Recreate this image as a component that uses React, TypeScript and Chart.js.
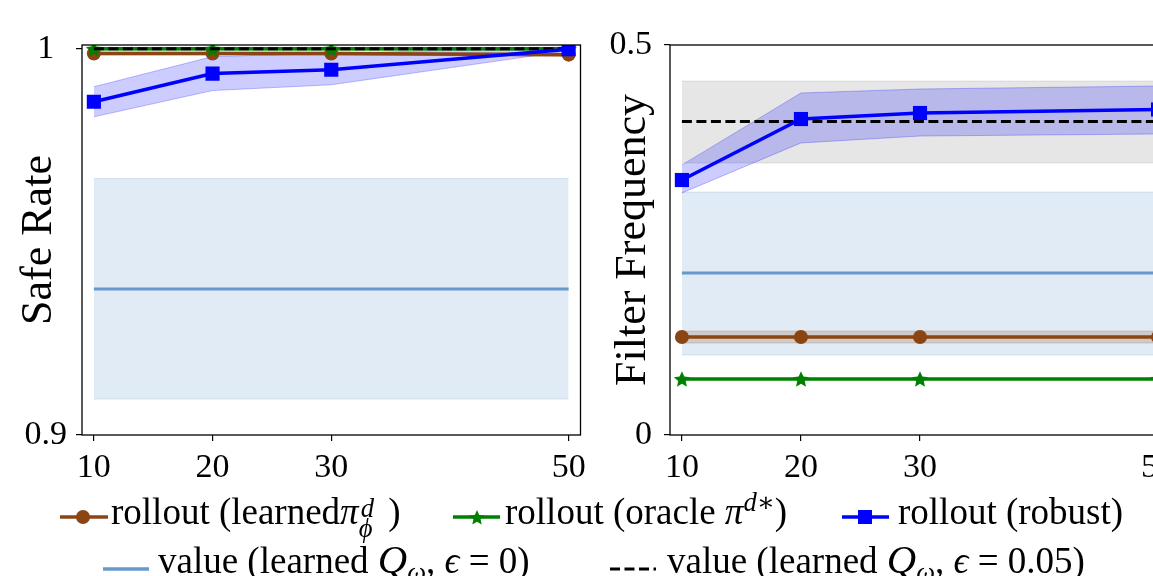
import React, { useEffect, useRef } from 'react';
import { Chart, registerables } from 'chart.js';

Chart.register(...registerables);

const FONT = "'Liberation Serif', 'DejaVu Serif', serif";

// x positions (trajectory counts)
const steps = [10, 20, 30, 50];
const valueSteps = [10, 50];
const xTicks = [10, 20, 30, 50];
const safeTicks = [0.9, 1];
const filterTicks = [0, 0.5];

// ---- Safe Rate panel ----
const safeLearned = [0.9988, 0.9988, 0.9988, 0.9985];
const safeLearnedHi = [0.9992, 0.9992, 0.9992, 0.9989];
const safeLearnedLo = [0.9984, 0.9984, 0.9984, 0.9981];
const safeOracle = [1, 1, 1, 1];
const safeRobust = [0.9863, 0.9936, 0.9946, 0.9999];
const safeRobustHi = [0.9902, 0.998, 0.9988, 1.0005];
const safeRobustLo = [0.9824, 0.9892, 0.9907, 0.9995];
const safeValue0 = [0.9378, 0.9378];
const safeValue0Hi = [0.9664, 0.9664];
const safeValue0Lo = [0.9093, 0.9093];
const safeValue005 = [1, 1];
const safeValue005Hi = [1.0004, 1.0004];
const safeValue005Lo = [0.9996, 0.9996];

// ---- Filter Frequency panel ----
const filterLearned = [0.1256, 0.1256, 0.1256, 0.1256];
const filterLearnedHi = [0.1333, 0.1333, 0.1333, 0.1333];
const filterLearnedLo = [0.1179, 0.1179, 0.1179, 0.1179];
const filterOracle = [0.0718, 0.0718, 0.0718, 0.0718];
const filterRobust = [0.3269, 0.4051, 0.4128, 0.4173];
const filterRobustHi = [0.3462, 0.4385, 0.4436, 0.4474];
const filterRobustLo = [0.3103, 0.3744, 0.3833, 0.3859];
const filterValue0 = [0.2077, 0.2077];
const filterValue0Hi = [0.3115, 0.3115];
const filterValue0Lo = [0.1026, 0.1026];
const filterValue005 = [0.4019, 0.4019];
const filterValue005Hi = [0.4538, 0.4538];
const filterValue005Lo = [0.3487, 0.3487];

const BROWN = '#8B4513';
const GREEN = '#008000';
const BLUE = '#0000FF';
const LIGHTBLUE = 'rgb(102,153,204)';

const pts = (xs: number[], ys: number[]) => xs.map((x, i) => ({ x, y: ys[i] }));

function starPoints(cx: number, cy: number, R: number, ratio: number) {
  const out: [number, number][] = [];
  for (let i = 0; i < 10; i++) {
    const a = -Math.PI / 2 + (i * Math.PI) / 5;
    const rr = i % 2 === 0 ? R : R * ratio;
    out.push([cx + rr * Math.cos(a), cy + rr * Math.sin(a)]);
  }
  return out;
}

function makeStar(size: number, color: string) {
  const c = document.createElement('canvas');
  c.width = size;
  c.height = size;
  const ctx = c.getContext('2d')!;
  const p = starPoints(size / 2, size / 2 + 0.8, size * 0.47, 0.47);
  ctx.beginPath();
  p.forEach(([x, y]) => ctx.lineTo(x, y));
  ctx.closePath();
  ctx.fillStyle = color;
  ctx.fill();
  return c;
}

const framePlugin = {
  id: 'frame',
  afterDraw(chart: any) {
    const { ctx, chartArea: a } = chart;
    ctx.save();
    ctx.strokeStyle = '#000';
    ctx.lineWidth = 1.3;
    ctx.strokeRect(a.left, a.top, a.right - a.left, a.bottom - a.top);
    ctx.restore();
  },
};

type Panel = {
  learned: number[]; learnedHi: number[]; learnedLo: number[];
  oracle: number[];
  robust: number[]; robustHi: number[]; robustLo: number[];
  value0: number[]; value0Hi: number[]; value0Lo: number[];
  value005: number[]; value005Hi: number[]; value005Lo: number[];
};

function band(data: any, fillTarget: number | false, bg: string, border: string, order: number) {
  return {
    data,
    fill: fillTarget === false ? false : fillTarget,
    backgroundColor: bg,
    borderColor: border,
    borderWidth: 1,
    pointRadius: 0,
    order,
    tension: 0,
    clip: 0,
  };
}

function buildDatasets(p: Panel, star: HTMLCanvasElement) {
  return [
    band(pts(valueSteps, p.value0Hi), 1, 'rgba(102,153,204,0.2)', 'rgba(102,153,204,0.22)', 100),
    band(pts(valueSteps, p.value0Lo), false, 'rgba(0,0,0,0)', 'rgba(102,153,204,0.22)', 100),
    {
      data: pts(valueSteps, p.value0), borderColor: LIGHTBLUE, borderWidth: 3,
      pointRadius: 0, fill: false, order: 90, clip: 0,
    },
    band(pts(valueSteps, p.value005Hi), 4, 'rgba(128,128,128,0.2)', 'rgba(128,128,128,0.18)', 85),
    band(pts(valueSteps, p.value005Lo), false, 'rgba(0,0,0,0)', 'rgba(128,128,128,0.18)', 85),
    band(pts(steps, p.learnedHi), 6, 'rgba(139,69,19,0.2)', 'rgba(139,69,19,0.2)', 80),
    band(pts(steps, p.learnedLo), false, 'rgba(0,0,0,0)', 'rgba(139,69,19,0.2)', 80),
    band(pts(steps, p.robustHi), 8, 'rgba(0,0,255,0.2)', 'rgba(0,0,255,0.25)', 75),
    band(pts(steps, p.robustLo), false, 'rgba(0,0,0,0)', 'rgba(0,0,255,0.25)', 75),
    {
      data: pts(steps, p.learned), borderColor: BROWN, backgroundColor: BROWN, borderWidth: 3.5,
      pointStyle: 'circle', pointRadius: 7, pointBorderWidth: 0, fill: false, order: 40, clip: 0,
    },
    {
      data: pts(steps, p.oracle), borderColor: GREEN, backgroundColor: GREEN, borderWidth: 3.5,
      pointStyle: star, pointRadius: 8, fill: false, order: 30, clip: 0,
    },
    {
      data: pts(valueSteps, p.value005), borderColor: '#000', borderWidth: 3, borderDash: [10, 4.5],
      pointRadius: 0, fill: false, order: 20, clip: 0,
    },
    {
      data: pts(steps, p.robust), borderColor: BLUE, backgroundColor: BLUE, borderWidth: 3.5,
      pointStyle: 'rect', pointRadius: 10, pointBorderWidth: 0, fill: false, order: 10, clip: 0,
    },
  ];
}

function makeOptions(opts: {
  yMin: number; yMax: number; yTicks: number[]; title: string; titlePad: number;
  yWidth: number; padRight: number; tickPad: number; crossAlign: string;
}) {
  return {
    responsive: false,
    animation: false,
    devicePixelRatio: 1,
    events: [],
    layout: { padding: { top: 45, right: opts.padRight, left: 0, bottom: 0 } },
    plugins: { legend: { display: false }, tooltip: { enabled: false } },
    elements: { line: { tension: 0 } },
    scales: {
      x: {
        type: 'linear',
        min: 9,
        max: 51,
        afterBuildTicks: (s: any) => { s.ticks = xTicks.map((v) => ({ value: v })); },
        afterFit: (s: any) => { s.height = 45; s.paddingLeft = 0; s.paddingRight = 0; },
        grid: { display: true, drawOnChartArea: false, drawTicks: true, tickLength: 6, color: '#000', lineWidth: 1.2 },
        border: { display: false },
        ticks: {
          color: '#000', font: { family: FONT, size: 34 }, padding: 7, maxRotation: 0, autoSkip: false,
          callback: (v: any) => String(v),
        },
      },
      y: {
        type: 'linear',
        min: opts.yMin,
        max: opts.yMax,
        afterBuildTicks: (s: any) => { s.ticks = opts.yTicks.map((v) => ({ value: v })); },
        afterFit: (s: any) => { s.width = opts.yWidth; s.paddingTop = 0; s.paddingBottom = 0; },
        grid: { display: true, drawOnChartArea: false, drawTicks: true, tickLength: 6, color: '#000', lineWidth: 1.2 },
        border: { display: false },
        ticks: {
          color: '#000', font: { family: FONT, size: 34 }, padding: opts.tickPad, crossAlign: opts.crossAlign,
          callback: (v: any) => String(v),
        },
        title: {
          display: true, text: opts.title, color: '#000',
          font: { family: FONT, size: 44 }, padding: { top: opts.titlePad, bottom: 0 },
        },
      },
    },
  };
}

const safePanel: Panel = {
  learned: safeLearned, learnedHi: safeLearnedHi, learnedLo: safeLearnedLo,
  oracle: safeOracle,
  robust: safeRobust, robustHi: safeRobustHi, robustLo: safeRobustLo,
  value0: safeValue0, value0Hi: safeValue0Hi, value0Lo: safeValue0Lo,
  value005: safeValue005, value005Hi: safeValue005Hi, value005Lo: safeValue005Lo,
};

const filterPanel: Panel = {
  learned: filterLearned, learnedHi: filterLearnedHi, learnedLo: filterLearnedLo,
  oracle: filterOracle,
  robust: filterRobust, robustHi: filterRobustHi, robustLo: filterRobustLo,
  value0: filterValue0, value0Hi: filterValue0Hi, value0Lo: filterValue0Lo,
  value005: filterValue005, value005Hi: filterValue005Hi, value005Lo: filterValue005Lo,
};

const textStyle: React.CSSProperties = {
  position: 'absolute',
  fontFamily: FONT,
  fontSize: 37,
  lineHeight: '37px',
  color: '#000',
  whiteSpace: 'nowrap',
};

function Stack({ top, bottom }: { top: string; bottom: string }) {
  return (
    <span style={{ display: 'inline-block', position: 'relative', width: '0.55em', height: 0 }}>
      <span style={{ position: 'absolute', left: '0.08em', top: '-1.08em', fontSize: '0.72em', lineHeight: 1, fontStyle: 'italic' }}>{top}</span>
      <span style={{ position: 'absolute', left: 0, top: '-0.32em', fontSize: '0.72em', lineHeight: 1, fontStyle: 'italic' }}>{bottom}</span>
    </span>
  );
}

function Legend() {
  const r1 = 493;
  const r2 = 541;
  const legendStar = starPoints(477, 518, 8, 0.47).map(([x, y]) => `${x},${y}`).join(' ');
  return (
    <>
      <svg width={1153} height={576} style={{ position: 'absolute', left: 0, top: 0 }}>
        <line x1={60} y1={517} x2={108} y2={517} stroke={BROWN} strokeWidth={3.5} />
        <circle cx={83} cy={517} r={7} fill={BROWN} />
        <line x1={453} y1={517} x2={500} y2={517} stroke={GREEN} strokeWidth={3.5} />
        <polygon fill={GREEN} points={legendStar} />
        <line x1={842} y1={517} x2={889} y2={517} stroke={BLUE} strokeWidth={3.5} />
        <rect x={858} y={510} width={14} height={14} fill={BLUE} />
        <line x1={103} y1={569} x2={149} y2={569} stroke={LIGHTBLUE} strokeWidth={3.5} />
        <line x1={610} y1={569} x2={656} y2={569} stroke="#000" strokeWidth={3} strokeDasharray="10 4.5" />
      </svg>
      <span style={{ ...textStyle, left: 111, top: r1 }}>
        rollout (learned<i>π</i><Stack top="d" bottom="ϕ" /> )
      </span>
      <span style={{ ...textStyle, left: 505, top: r1 }}>
        rollout (oracle <i>π</i>
        <span style={{ position: 'relative', top: '-0.5em', fontSize: '0.72em' }}><i>d</i>∗</span>)
      </span>
      <span style={{ ...textStyle, left: 898, top: r1 }}>rollout (robust)</span>
      <span style={{ ...textStyle, left: 158, top: r2 }}>
        value (learned <i style={{ fontSize: '1.1em' }}>Q</i>
        <span style={{ position: 'relative', top: '0.3em', fontSize: '0.72em' }}><i>ω</i></span>, <i>ϵ</i> = 0)
      </span>
      <span style={{ ...textStyle, left: 667, top: r2 }}>
        value (learned <i style={{ fontSize: '1.1em' }}>Q</i>
        <span style={{ position: 'relative', top: '0.3em', fontSize: '0.72em' }}><i>ω</i></span>, <i>ϵ</i> = 0.05)
      </span>
    </>
  );
}

export default function App() {
  const leftRef = useRef<HTMLCanvasElement>(null);
  const rightRef = useRef<HTMLCanvasElement>(null);

  useEffect(() => {
    Chart.defaults.font.family = FONT;
    const star = makeStar(18, GREEN);
    const left = new Chart(leftRef.current!, {
      type: 'line',
      data: { datasets: buildDatasets(safePanel, star) as any },
      options: makeOptions({
        yMin: 0.9, yMax: 1.001, yTicks: safeTicks, title: 'Safe Rate', titlePad: 13,
        yWidth: 82, padRight: 8, tickPad: 9, crossAlign: 'center',
      }) as any,
      plugins: [framePlugin],
    });
    const right = new Chart(rightRef.current!, {
      type: 'line',
      data: { datasets: buildDatasets(filterPanel, star) as any },
      options: makeOptions({
        yMin: 0, yMax: 0.5, yTicks: filterTicks, title: 'Filter Frequency', titlePad: 17,
        yWidth: 80, padRight: 20, tickPad: 12, crossAlign: 'near',
      }) as any,
      plugins: [framePlugin],
    });
    return () => {
      left.destroy();
      right.destroy();
    };
  }, []);

  return (
    <div
      style={{
        position: 'fixed', left: 0, top: 0, width: 1153, height: 576,
        overflow: 'hidden', background: '#fff',
      }}
    >
      <canvas ref={leftRef} width={592} height={480} style={{ position: 'absolute', left: 0, top: 0, width: 592, height: 480 }} />
      <canvas ref={rightRef} width={600} height={480} style={{ position: 'absolute', left: 590, top: 0, width: 600, height: 480 }} />
      <Legend />
    </div>
  );
}
